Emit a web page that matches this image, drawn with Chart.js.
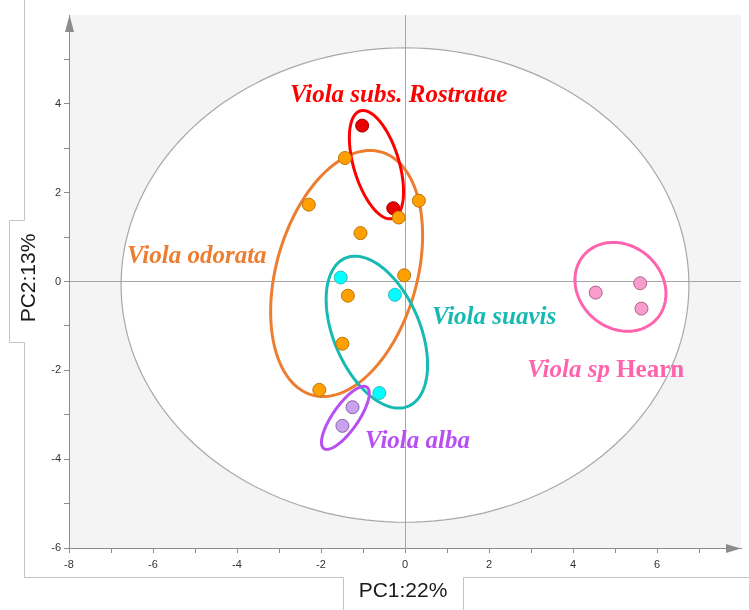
<!DOCTYPE html>
<html lang="en">

<head>
    <meta charset="UTF-8">
    <title>PCA - Viola</title>
    <script src="https://cdn.jsdelivr.net/npm/chart.js"></script>
    <style>
        * {
            margin: 0;
            padding: 0;
            box-sizing: border-box;
        }

        body {
            background-color: #fff;
        }

        .container {
            width: 749px;
            height: 610px;
        }
    </style>
</head>

<body>
    <div class="container">
        <canvas id="pca-chart" width="749" height="610"></canvas>
    </div>

    <script>
        // groups, in draw order
        var groupNames = ['Viola odorata', 'Viola subs. Rostratae', 'Viola suavis', 'Viola alba', 'Viola sp Hearn'];

        // scores (PC1, PC2) per group
        var odorataX = [-1.43, -2.29, -0.15, 0.33, -1.06, -0.02, -1.36, -1.49, -2.04];
        var odorataY = [2.78, 1.73, 1.44, 1.82, 1.09, 0.14, -0.32, -1.40, -2.44];
        var rostrataeX = [-1.02, -0.28];
        var rostrataeY = [3.51, 1.65];
        var suavisX = [-1.53, -0.24, -0.61];
        var suavisY = [0.09, -0.30, -2.51];
        var albaX = [-1.25, -1.49];
        var albaY = [-2.83, -3.25];
        var hearnX = [4.54, 5.60, 5.63];
        var hearnY = [-0.25, -0.04, -0.61];

        // group ellipses: centre, top semi-diameter (ux, uy), horizontal half chord (vx)
        var ellCx = [-1.39, -0.68, -0.67, -1.42, 5.13];
        var ellCy = [0.18, 2.63, -1.14, -3.07, -0.12];
        var ellUx = [0.56, -0.32, -0.52, 0.44, -0.17];
        var ellUy = [2.77, 1.22, 1.71, 0.71, 1.00];
        var ellVx = [1.72, 0.56, 1.09, 0.36, 1.07];

        // Hotelling T2 ellipse
        var t2Cy = -0.08;
        var t2Rx = 6.76;
        var t2Ry = 5.34;

        // group label anchors (left, baseline)
        var labelX = [-6.62, -2.74, 0.64, -0.95, 2.91];
        var labelY = [0.41, 4.05, -0.96, -3.74, -2.14];

        var xTicks = [-8, -6, -4, -2, 0, 2, 4, 6];
        var yTicks = [-6, -4, -2, 0, 2, 4];

        var lineColors = ['#ed7d31', '#ff0000', '#17bab3', '#b84ff2', '#ff63ad'];
        var fillColors = ['#ffa000', '#e80000', '#00ffff', '#c9a2ef', '#f79ccb'];
        var edgeColors = ['#b87808', '#a00000', '#3ab8b8', '#8c64a8', '#b0648c'];

        var xs = [odorataX, rostrataeX, suavisX, albaX, hearnX];
        var ys = [odorataY, rostrataeY, suavisY, albaY, hearnY];

        var datasets = groupNames.map(function (name, i) {
            return {
                label: name,
                data: xs[i].map(function (x, j) { return { x: x, y: ys[i][j] }; }),
                backgroundColor: fillColors[i],
                borderColor: edgeColors[i],
                borderWidth: 1,
                pointRadius: 6.5
            };
        });

        function ellipsePath(ctx, sx, sy, cx, cy, ux, uy, vx, vy) {
            ctx.beginPath();
            for (var k = 0; k <= 180; k++) {
                var t = k / 180 * Math.PI * 2;
                var px = sx.getPixelForValue(cx + ux * Math.cos(t) + vx * Math.sin(t));
                var py = sy.getPixelForValue(cy + uy * Math.cos(t) + vy * Math.sin(t));
                if (k === 0) ctx.moveTo(px, py); else ctx.lineTo(px, py);
            }
            ctx.closePath();
        }

        var backdrop = {
            id: 'backdrop',
            beforeDraw: function (chart) {
                var ctx = chart.ctx, a = chart.chartArea;
                var sx = chart.scales.x, sy = chart.scales.y;
                ctx.save();
                ctx.fillStyle = '#f4f4f4';
                ctx.fillRect(a.left, a.top, a.right - a.left, a.bottom - a.top);
                ellipsePath(ctx, sx, sy, 0, t2Cy, 0, t2Ry, t2Rx, 0);
                ctx.fillStyle = '#fff';
                ctx.fill();
                ctx.strokeStyle = '#a8a8a8';
                ctx.lineWidth = 1.2;
                ctx.stroke();
                ctx.restore();
            },
            beforeDatasetsDraw: function (chart) {
                var ctx = chart.ctx;
                var sx = chart.scales.x, sy = chart.scales.y;
                ctx.save();
                for (var i = 0; i < ellCx.length; i++) {
                    ellipsePath(ctx, sx, sy, ellCx[i], ellCy[i], ellUx[i], ellUy[i], ellVx[i], 0);
                    ctx.strokeStyle = lineColors[i];
                    ctx.lineWidth = 3;
                    ctx.stroke();
                }
                ctx.restore();
            },
            afterDraw: function (chart) {
                var ctx = chart.ctx, a = chart.chartArea;
                var sx = chart.scales.x, sy = chart.scales.y;
                ctx.save();

                // axis arrows
                ctx.fillStyle = '#8c8c8c';
                ctx.beginPath();
                ctx.moveTo(a.left + 0.5, a.top);
                ctx.lineTo(a.left - 4, a.top + 17);
                ctx.lineTo(a.left + 5, a.top + 17);
                ctx.fill();
                ctx.beginPath();
                ctx.moveTo(a.right, a.bottom + 0.5);
                ctx.lineTo(a.right - 15, a.bottom - 4);
                ctx.lineTo(a.right - 15, a.bottom + 5);
                ctx.fill();

                // frame with title tabs
                ctx.strokeStyle = '#c4c4c4';
                ctx.lineWidth = 1;
                ctx.beginPath();
                ctx.moveTo(24.5, 0); ctx.lineTo(24.5, 220.5);
                ctx.lineTo(9.5, 220.5); ctx.lineTo(9.5, 342.5); ctx.lineTo(24.5, 342.5);
                ctx.lineTo(24.5, 577.5); ctx.lineTo(343.5, 577.5); ctx.lineTo(343.5, 610);
                ctx.moveTo(463.5, 610); ctx.lineTo(463.5, 577.5); ctx.lineTo(749, 577.5);
                ctx.stroke();

                // axis titles
                ctx.fillStyle = '#1a1a1a';
                ctx.font = '21px "Liberation Sans", Arial, sans-serif';
                ctx.textAlign = 'center';
                ctx.textBaseline = 'middle';
                ctx.fillText('PC1:22%', 403, 591);
                ctx.translate(29, 278);
                ctx.rotate(-Math.PI / 2);
                ctx.fillText('PC2:13%', 0, 0);
                ctx.setTransform(1, 0, 0, 1, 0, 0);

                // group labels
                ctx.textAlign = 'left';
                ctx.textBaseline = 'alphabetic';
                for (var i = 0; i < groupNames.length; i++) {
                    var px = sx.getPixelForValue(labelX[i]);
                    var py = sy.getPixelForValue(labelY[i]);
                    ctx.fillStyle = lineColors[i];
                    var name = groupNames[i];
                    if (name.indexOf('Hearn') > 0) {
                        var head = name.replace('Hearn', '');
                        ctx.font = 'italic bold 25px "Liberation Serif", "Times New Roman", serif';
                        ctx.fillText(head, px, py);
                        var w = ctx.measureText(head).width;
                        ctx.font = 'bold 25px "Liberation Serif", "Times New Roman", serif';
                        ctx.fillText('Hearn', px + w, py);
                    } else {
                        ctx.font = 'italic bold 25px "Liberation Serif", "Times New Roman", serif';
                        ctx.fillText(name, px, py);
                    }
                }
                ctx.restore();
            }
        };

        function gridColor(c) {
            return c.tick && c.tick.value === 0 ? '#a6a6a6' : 'rgba(0,0,0,0)';
        }

        // no tick mark at the arrow end of an axis
        function tickColor(c) {
            return c.tick && c.tick.value === c.scale.max ? 'rgba(0,0,0,0)' : '#8c8c8c';
        }

        var ctx = document.getElementById('pca-chart').getContext('2d');
        var myChart = new Chart(ctx, {
            type: 'scatter',
            data: { datasets: datasets },
            plugins: [backdrop],
            options: {
                responsive: false,
                animation: false,
                layout: { padding: { left: 0, top: 15, right: 8, bottom: 0 } },
                plugins: {
                    legend: { display: false },
                    tooltip: { enabled: false }
                },
                scales: {
                    x: {
                        type: 'linear',
                        min: -8,
                        max: 8,
                        afterFit: function (s) { s.height = 62; },
                        ticks: {
                            stepSize: 1,
                            autoSkip: false,
                            maxRotation: 0,
                            padding: 5,
                            color: '#333',
                            font: { size: 11, family: '"Liberation Sans", Arial, sans-serif' },
                            callback: function (v) { return xTicks.indexOf(v) >= 0 ? String(v) : ''; }
                        },
                        grid: { color: gridColor, tickColor: tickColor, tickLength: 5, lineWidth: 1 },
                        border: { color: '#8c8c8c', width: 1 }
                    },
                    y: {
                        type: 'linear',
                        min: -6,
                        max: 6,
                        afterFit: function (s) { s.width = 69; },
                        ticks: {
                            stepSize: 1,
                            autoSkip: false,
                            padding: 3,
                            color: '#333',
                            font: { size: 11, family: '"Liberation Sans", Arial, sans-serif' },
                            callback: function (v) { return yTicks.indexOf(v) >= 0 ? String(v) : ''; }
                        },
                        grid: { color: gridColor, tickColor: tickColor, tickLength: 5, lineWidth: 1 },
                        border: { color: '#8c8c8c', width: 1 }
                    }
                }
            }
        });
    </script>
</body>

</html>
